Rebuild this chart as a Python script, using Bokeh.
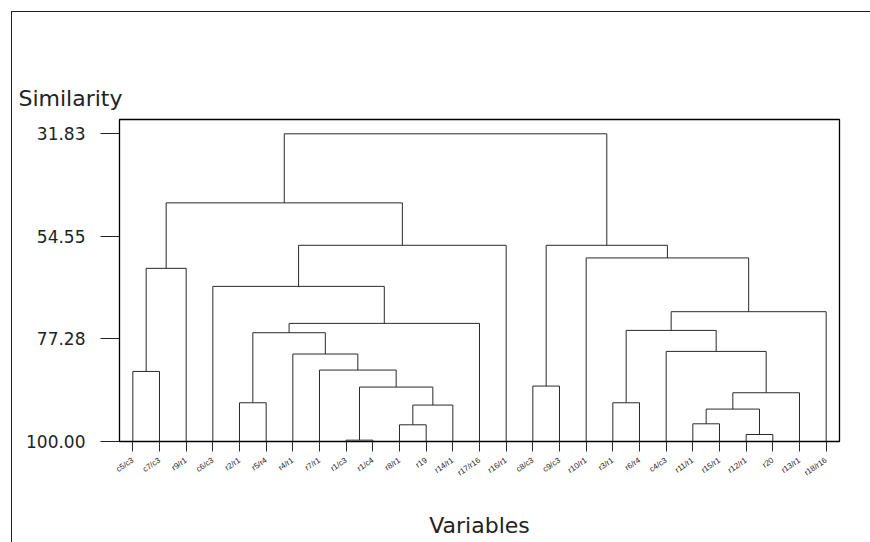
from bokeh.plotting import figure
from bokeh.models import Range1d, FixedTicker, PrintfTickFormatter
from bokeh.embed import file_html
from bokeh.resources import INLINE

# ---------------- data ----------------
leaf_labels = ["c5/c3", "c7/c3", "r9/r1", "c6/c3", "r2/r1", "r5/r4", "r4/r1", "r7/r1",
               "r1/c3", "r1/c4", "r8/r1", "r19", "r14/r1", "r17/r16", "r16/r1",
               "c8/c3", "c9/c3", "r10/r1", "r3/r1", "r6/r4", "c4/c3", "r11/r1",
               "r15/r1", "r12/r1", "r20", "r13/r1", "r18/r16"]

# linkage: node ids 0..26 are leaves, 27.. are merges in this order
merge_left = [0, 27, 4, 8, 10, 31, 30, 7, 6, 29, 36, 3, 38, 28,
              15, 21, 23, 42, 44, 20, 18, 47, 48, 17, 41, 40]
merge_right = [1, 2, 5, 9, 11, 12, 32, 33, 34, 35, 13, 37, 14, 39,
               16, 22, 24, 43, 25, 45, 19, 46, 26, 49, 50, 51]
merge_similarity = [84.48, 61.64, 91.42, 99.70, 96.30, 91.93, 87.94, 84.17, 80.62,
                    75.90, 73.83, 65.63, 56.53, 47.13,
                    87.72, 96.08, 98.45, 92.82, 89.20, 80.04, 91.42, 75.39, 71.24,
                    59.33, 56.53, 31.83]

y_ticks = [31.83, 54.55, 77.28, 100.00]

# ---------------- build dendrogram paths ----------------
n = len(leaf_labels)
node_x = [i + 1 for i in range(n)]
node_h = [100.0] * n
xs, ys = [], []
for l, r, h in zip(merge_left, merge_right, merge_similarity):
    xs.append([node_x[l], node_x[l], node_x[r], node_x[r]])
    ys.append([node_h[l], h, h, node_h[r]])
    node_x.append((node_x[l] + node_x[r]) / 2.0)
    node_h.append(h)

FONT = "DejaVu Sans"
INK = "#222222"

p = figure(width=870, height=542, output_backend="svg", toolbar_location=None,
           x_range=Range1d(0.5, n + 0.5), y_range=Range1d(100, 28.66),
           min_border_left=119, min_border_right=31, min_border_top=119,
           min_border_bottom=101, title="Similarity")

p.styles = {"box-shadow": "inset 11px 11px 0 0 #ffffff, inset 12px 12px 0 0 #222222"}
p.border_fill_color = None
p.background_fill_color = "white"
p.outline_line_color = "#000000"
p.outline_line_width = 1.3
p.grid.visible = False

p.title.text_font = FONT
p.title.text_font_size = "22px"
p.title.text_font_style = "normal"
p.title.text_color = INK
p.title.align = "left"
p.title.offset = -101
p.title.standoff = 18

p.multi_line(xs, ys, line_color="#2a2a2a", line_width=1)

# y axis
ya = p.yaxis[0]
ya.ticker = FixedTicker(ticks=y_ticks)
ya.formatter = PrintfTickFormatter(format="%.2f")
ya.axis_line_color = None
ya.major_tick_out = 19
ya.major_tick_in = 0
ya.minor_tick_line_color = None
ya.major_tick_line_color = INK
ya.major_label_standoff = 15
ya.major_label_text_font = FONT
ya.major_label_text_font_size = "17px"
ya.major_label_text_color = INK

# x axis
xa = p.xaxis[0]
xa.ticker = FixedTicker(ticks=list(range(1, n + 1)))
xa.major_label_overrides = {i + 1: lab for i, lab in enumerate(leaf_labels)}
xa.axis_line_color = None
xa.major_tick_out = 10
xa.major_tick_in = 0
xa.minor_tick_line_color = None
xa.major_tick_line_color = "#2a2a2a"
xa.major_label_orientation = 0.6
xa.major_label_standoff = 8
xa.major_label_text_font = "Liberation Sans"
xa.major_label_text_font_size = "8px"
xa.major_label_text_color = INK
xa.axis_label = "Variables"
xa.axis_label_text_font = FONT
xa.axis_label_text_font_size = "22px"
xa.axis_label_text_font_style = "normal"
xa.axis_label_text_color = INK
xa.axis_label_standoff = 29

open("out.html", "w").write(file_html(p, INLINE))
